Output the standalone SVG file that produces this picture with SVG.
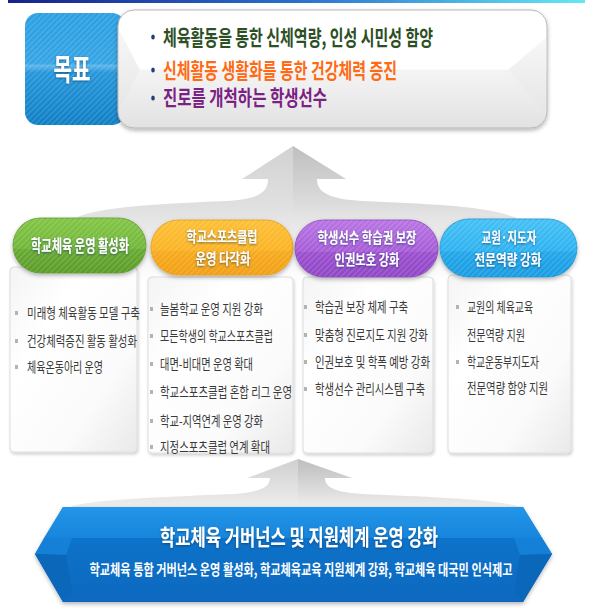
<svg xmlns="http://www.w3.org/2000/svg" width="601" height="614" viewBox="0 0 601 614">
<defs>
<style>
.kr{font-family:"Noto Sans CJK KR","Noto Sans",sans-serif;}
.goal{font-size:21px;font-weight:700;}
.pill{font-size:17px;font-weight:700;fill:#ffffff;text-anchor:middle;}
.pill2{font-size:15px;font-weight:700;fill:#ffffff;text-anchor:middle;}
.item{font-size:13.5px;fill:#3a3a3a;}
.bul{fill:#b3b3b3;}
.gbul{fill:#1c3f78;}
.panel{fill:url(#panelG);stroke:#dddddd;stroke-width:1;}
</style>
<linearGradient id="topline" x1="0" y1="0" x2="1" y2="0"><stop offset="0" stop-color="#17228a"/><stop offset="0.5" stop-color="#2b6fcd"/><stop offset="1" stop-color="#66e8f4"/></linearGradient>
<linearGradient id="goalBlue" x1="0" y1="0" x2="0" y2="1"><stop offset="0" stop-color="#2b9fe2"/><stop offset="0.45" stop-color="#34a4e4"/><stop offset="0.47" stop-color="#5cb6ea"/><stop offset="0.53" stop-color="#2596da"/><stop offset="1" stop-color="#0f7fc5"/></linearGradient>
<linearGradient id="goalWhite" x1="0" y1="0" x2="0" y2="1"><stop offset="0" stop-color="#ffffff"/><stop offset="0.5" stop-color="#ffffff"/><stop offset="0.51" stop-color="#f4f4f4"/><stop offset="1" stop-color="#e2e2e2"/></linearGradient>
<linearGradient id="facet" x1="0" y1="0" x2="0" y2="1"><stop offset="0" stop-color="#f7f7f7"/><stop offset="1" stop-color="#e6e6e6"/></linearGradient>
<linearGradient id="arrowUp" gradientUnits="userSpaceOnUse" x1="0" y1="146" x2="0" y2="282"><stop offset="0" stop-color="#d2d2d2"/><stop offset="0.45" stop-color="#e0e0e0"/><stop offset="1" stop-color="#ffffff"/></linearGradient>
<linearGradient id="arrowDn" gradientUnits="userSpaceOnUse" x1="0" y1="459" x2="0" y2="515"><stop offset="0" stop-color="#d0d0d0"/><stop offset="0.6" stop-color="#e4e4e4"/><stop offset="1" stop-color="#f2f2f2"/></linearGradient>
<linearGradient id="shadeUp" gradientUnits="userSpaceOnUse" x1="0" y1="146" x2="0" y2="215"><stop offset="0" stop-color="#000" stop-opacity="0.09"/><stop offset="1" stop-color="#000" stop-opacity="0"/></linearGradient>
<linearGradient id="shadeDn" gradientUnits="userSpaceOnUse" x1="0" y1="459" x2="0" y2="505"><stop offset="0" stop-color="#000" stop-opacity="0.09"/><stop offset="1" stop-color="#000" stop-opacity="0"/></linearGradient>
<linearGradient id="panelG" x1="0" y1="0" x2="1" y2="1"><stop offset="0" stop-color="#f4f4f4"/><stop offset="0.3" stop-color="#ffffff"/><stop offset="0.7" stop-color="#fbfbfb"/><stop offset="1" stop-color="#e9e9e9"/></linearGradient>
<linearGradient id="gGreen" x1="0" y1="0" x2="0" y2="1"><stop offset="0" stop-color="#82c545"/><stop offset="0.55" stop-color="#72b73a"/><stop offset="0.57" stop-color="#66aa31"/><stop offset="1" stop-color="#5a9b2a"/></linearGradient>
<linearGradient id="gOrange" x1="0" y1="0" x2="0" y2="1"><stop offset="0" stop-color="#fdbf33"/><stop offset="0.55" stop-color="#fbb325"/><stop offset="0.57" stop-color="#f7aa1d"/><stop offset="1" stop-color="#f19f12"/></linearGradient>
<linearGradient id="gPurple" x1="0" y1="0" x2="0" y2="1"><stop offset="0" stop-color="#b774e2"/><stop offset="0.55" stop-color="#a65dd8"/><stop offset="0.57" stop-color="#9b50cf"/><stop offset="1" stop-color="#8f45c5"/></linearGradient>
<linearGradient id="gBlue" x1="0" y1="0" x2="0" y2="1"><stop offset="0" stop-color="#44c0f5"/><stop offset="0.55" stop-color="#2db2f0"/><stop offset="0.57" stop-color="#22a6e9"/><stop offset="1" stop-color="#199be2"/></linearGradient>
<linearGradient id="banTop" x1="0" y1="0" x2="0" y2="1"><stop offset="0" stop-color="#2296e8"/><stop offset="1" stop-color="#1785dc"/></linearGradient>
<linearGradient id="banLow" x1="0" y1="0" x2="0" y2="1"><stop offset="0" stop-color="#0b77cf"/><stop offset="1" stop-color="#0869bf"/></linearGradient>
<pattern id="stripe" width="4" height="4" patternUnits="userSpaceOnUse" patternTransform="rotate(45)"><rect width="1.3" height="4" fill="#ffffff" fill-opacity="0.16"/></pattern>
<clipPath id="rightHalfUp"><rect x="293" y="140" width="310" height="80"/></clipPath>
<clipPath id="rightHalfDn"><rect x="298" y="455" width="310" height="60"/></clipPath>
<filter id="sh" x="-10%" y="-15%" width="120%" height="145%"><feDropShadow dx="0" dy="2" stdDeviation="2" flood-color="#000" flood-opacity="0.3"/></filter>
<filter id="shSoft" x="-10%" y="-10%" width="120%" height="130%"><feDropShadow dx="1" dy="2" stdDeviation="1.5" flood-color="#000" flood-opacity="0.18"/></filter>
<filter id="tsh" x="-5%" y="-40%" width="110%" height="190%"><feDropShadow dx="0" dy="1" stdDeviation="0.8" flood-color="#00335e" flood-opacity="0.6"/></filter>
</defs>

<rect x="8" y="0" width="577" height="3" fill="url(#topline)"/>

<g id="connectors">
  <g id="arrow-top">
    <path d="M293,146 L346,179 L317,179 C317,193 330,199 362,201 C430,204 495,206 520,220 L532,282 L58,282 L72,220 C95,206 160,204 226,201 C258,199 268,193 268,179 L242,179 Z" fill="url(#arrowUp)"/>
    <path d="M293,146 L346,179 L317,179 C317,193 330,199 362,201 C430,204 495,206 520,220 L532,282 L58,282 L72,220 C95,206 160,204 226,201 C258,199 268,193 268,179 L242,179 Z" fill="url(#shadeUp)" clip-path="url(#rightHalfUp)"/>
  </g>
  <g id="arrow-bottom">
    <path d="M298,459 L352,478 L325,478 C325,488 336,492 362,494 C430,497 495,499 522,507 L522,520 L66,520 L72,506 C100,499 165,497 234,494 C258,492 270,488 270,478 L247,478 Z" fill="url(#arrowDn)"/>
    <path d="M298,459 L352,478 L325,478 C325,488 336,492 362,494 C430,497 495,499 522,507 L522,520 L66,520 L72,506 C100,499 165,497 234,494 C258,492 270,488 270,478 L247,478 Z" fill="url(#shadeDn)" clip-path="url(#rightHalfDn)"/>
  </g>
</g>

<g id="goal-label">
  <rect x="25" y="13" width="100" height="112" rx="13" fill="url(#goalBlue)"/>
  <rect x="25" y="13" width="100" height="112" rx="13" fill="url(#stripe)"/>
  <text class="kr" x="72" y="80" font-size="30" font-weight="700" fill="#ffffff" text-anchor="middle" textLength="37" lengthAdjust="spacingAndGlyphs" filter="url(#tsh)">목표</text>
</g>

<g id="goal">
  <rect x="118" y="10" width="429" height="118" rx="16" fill="url(#goalWhite)" stroke="#b8b8b8" stroke-width="1" filter="url(#sh)"/>
  <path d="M119,30 L140,70 L119,110 Z" fill="url(#facet)"/>
  <path d="M546,38 L508,70 L546,112 Z" fill="url(#facet)"/>
  <ellipse class="gbul" cx="153" cy="37" rx="1.8" ry="2.6"/>
  <ellipse class="gbul" cx="153" cy="70" rx="1.8" ry="2.6"/>
  <ellipse class="gbul" cx="153" cy="98" rx="1.8" ry="2.6"/>
  <text class="kr goal" x="163" y="45" fill="#2d4f24" textLength="270" lengthAdjust="spacingAndGlyphs">체육활동을 통한 신체역량, 인성 시민성 함양</text>
  <text class="kr goal" x="163" y="78" fill="#ff6a14" textLength="234" lengthAdjust="spacingAndGlyphs">신체활동 생활화를 통한 건강체력 증진</text>
  <text class="kr goal" x="163" y="105" fill="#7b2184" textLength="164" lengthAdjust="spacingAndGlyphs">진로를 개척하는 학생선수</text>
</g>

<g id="panel-1">
  <rect class="panel" x="10" y="267" width="127" height="185" rx="4" filter="url(#shSoft)"/>
  <rect class="bul" x="15" y="311" width="3" height="4"/>
  <rect class="bul" x="15" y="339" width="3" height="4"/>
  <rect class="bul" x="15" y="365" width="3" height="4"/>
  <text class="kr item" x="27" y="318" textLength="113" lengthAdjust="spacingAndGlyphs">미래형 체육활동 모델 구축</text>
  <text class="kr item" x="27" y="346" textLength="110" lengthAdjust="spacingAndGlyphs">건강체력증진 활동 활성화</text>
  <text class="kr item" x="27" y="372" textLength="76" lengthAdjust="spacingAndGlyphs">체육온동아리 운영</text>
</g>

<g id="panel-2">
  <rect class="panel" x="148" y="277" width="145" height="176" rx="4" filter="url(#shSoft)"/>
  <rect class="bul" x="150" y="307" width="3" height="4"/>
  <rect class="bul" x="150" y="334" width="3" height="4"/>
  <rect class="bul" x="150" y="362" width="3" height="4"/>
  <rect class="bul" x="150" y="390" width="3" height="4"/>
  <rect class="bul" x="150" y="419" width="3" height="4"/>
  <rect class="bul" x="150" y="445" width="3" height="4"/>
  <text class="kr item" x="160" y="314" textLength="103" lengthAdjust="spacingAndGlyphs">늘봄학교 운영 지원 강화</text>
  <text class="kr item" x="160" y="341" textLength="113" lengthAdjust="spacingAndGlyphs">모든학생의 학교스포츠클럽</text>
  <text class="kr item" x="160" y="369" textLength="93" lengthAdjust="spacingAndGlyphs">대면-비대면 운영 확대</text>
  <text class="kr item" x="160" y="397" textLength="132" lengthAdjust="spacingAndGlyphs">학교스포츠클럽 혼합 리그 운영</text>
  <text class="kr item" x="160" y="426" textLength="103" lengthAdjust="spacingAndGlyphs">학교-지역연계 운영 강화</text>
  <text class="kr item" x="160" y="452" textLength="110" lengthAdjust="spacingAndGlyphs">지정스포츠클럽 연계 확대</text>
</g>

<g id="panel-3">
  <rect class="panel" x="303" y="277" width="130" height="176" rx="4" filter="url(#shSoft)"/>
  <rect class="bul" x="304" y="305" width="3" height="4"/>
  <rect class="bul" x="304" y="333" width="3" height="4"/>
  <rect class="bul" x="304" y="360" width="3" height="4"/>
  <rect class="bul" x="304" y="387" width="3" height="4"/>
  <text class="kr item" x="315" y="312" textLength="93" lengthAdjust="spacingAndGlyphs">학습권 보장 체제 구축</text>
  <text class="kr item" x="315" y="340" textLength="113" lengthAdjust="spacingAndGlyphs">맞춤형 진로지도 지원 강화</text>
  <text class="kr item" x="315" y="367" textLength="115" lengthAdjust="spacingAndGlyphs">인권보호 및 학폭 예방 강화</text>
  <text class="kr item" x="315" y="394" textLength="110" lengthAdjust="spacingAndGlyphs">학생선수 관리시스템 구축</text>
</g>

<g id="panel-4">
  <rect class="panel" x="448" y="275" width="123" height="178" rx="4" filter="url(#shSoft)"/>
  <rect class="bul" x="456" y="305" width="3" height="4"/>
  <rect class="bul" x="456" y="360" width="3" height="4"/>
  <text class="kr item" x="467" y="312" textLength="66" lengthAdjust="spacingAndGlyphs">교원의 체육교육</text>
  <text class="kr item" x="467" y="340" textLength="58" lengthAdjust="spacingAndGlyphs">전문역량 지원</text>
  <text class="kr item" x="467" y="367" textLength="72" lengthAdjust="spacingAndGlyphs">학교운동부지도자</text>
  <text class="kr item" x="467" y="393" textLength="81" lengthAdjust="spacingAndGlyphs">전문역량 함양 지원</text>
</g>

<g id="pill-1">
  <rect x="13" y="218" width="133" height="55" rx="27.5" fill="url(#gGreen)" stroke="#5d9a2e" stroke-width="0.8" filter="url(#sh)"/>
  <rect x="13" y="218" width="133" height="55" rx="27.5" fill="url(#stripe)"/>
  <text class="kr pill" x="80" y="252" textLength="98" lengthAdjust="spacingAndGlyphs" filter="url(#tsh)">학교체육 운영 활성화</text>
</g>

<g id="pill-2">
  <rect x="151" y="220" width="142" height="55" rx="27.5" fill="url(#gOrange)" stroke="#e59c14" stroke-width="0.8" filter="url(#sh)"/>
  <rect x="151" y="220" width="142" height="55" rx="27.5" fill="url(#stripe)"/>
  <text class="kr pill2" x="222" y="242" textLength="71" lengthAdjust="spacingAndGlyphs" filter="url(#tsh)">학교스포츠클럽</text>
  <text class="kr pill2" x="223" y="264" textLength="55" lengthAdjust="spacingAndGlyphs" filter="url(#tsh)">운영 다각화</text>
</g>

<g id="pill-3">
  <rect x="295" y="220" width="143" height="57" rx="28.5" fill="url(#gPurple)" stroke="#8a44bd" stroke-width="0.8" filter="url(#sh)"/>
  <rect x="295" y="220" width="143" height="57" rx="28.5" fill="url(#stripe)"/>
  <text class="kr pill2" x="367" y="243" textLength="99" lengthAdjust="spacingAndGlyphs" filter="url(#tsh)">학생선수 학습권 보장</text>
  <text class="kr pill2" x="367" y="265" textLength="65" lengthAdjust="spacingAndGlyphs" filter="url(#tsh)">인권보호 강화</text>
</g>

<g id="pill-4">
  <rect x="440" y="219" width="137" height="58" rx="29" fill="url(#gBlue)" stroke="#1893d6" stroke-width="0.8" filter="url(#sh)"/>
  <rect x="440" y="219" width="137" height="58" rx="29" fill="url(#stripe)"/>
  <text class="kr pill2" x="509" y="243" textLength="55" lengthAdjust="spacingAndGlyphs" filter="url(#tsh)">교원·지도자</text>
  <text class="kr pill2" x="508" y="265" textLength="67" lengthAdjust="spacingAndGlyphs" filter="url(#tsh)">전문역량 강화</text>
</g>

<g id="banner">
  <polygon points="63,507 523,507 552,554 523,602 63,602 35,554" fill="url(#banLow)" filter="url(#sh)"/>
  <polygon points="63,507 523,507 542,538 44,538" fill="url(#banTop)"/>
  <polygon points="44,538 72,538 66,555 35,554" fill="#1580d8"/>
  <polygon points="35,554 66,555 72,592 63,602" fill="#0a67ba"/>
  <polygon points="542,538 514,538 520,555 552,554" fill="#1580d8"/>
  <polygon points="552,554 520,555 514,592 523,602" fill="#0a67ba"/>
  <text class="kr" x="299" y="545" font-size="22" font-weight="700" fill="#ffffff" text-anchor="middle" textLength="278" lengthAdjust="spacingAndGlyphs" filter="url(#tsh)">학교체육 거버넌스 및 지원체계 운영 강화</text>
  <text class="kr" transform="translate(301,575) scale(1,1.25)" x="0" y="0" font-size="12" font-weight="700" fill="#ffffff" text-anchor="middle" textLength="423" lengthAdjust="spacingAndGlyphs">학교체육 통합 거버넌스 운영 활성화, 학교체육교육 지원체계 강화, 학교체육 대국민 인식제고</text>
</g>
</svg>
